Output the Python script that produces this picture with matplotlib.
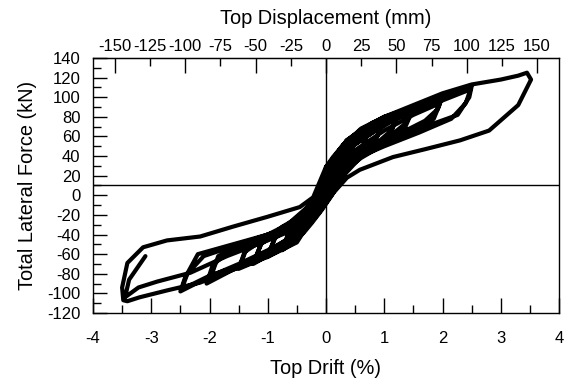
import matplotlib
matplotlib.use("Agg")
import matplotlib.pyplot as plt
from matplotlib.ticker import FuncFormatter

plt.rcParams['font.family'] = ['Liberation Sans', 'DejaVu Sans']
plt.rcParams['axes.unicode_minus'] = False

# wall height used to convert drift (%) to top displacement (mm)
wall_height_mm = 4140.0

# hysteresis cycles: drift (%) and lateral force (kN)
cyc_025_drift = [0.00, 0.12, 0.26, 0.18, 0.06, -0.06, -0.18, -0.26, -0.17, -0.08, 0.00, 0.12, 0.25, 0.16,
                 0.04, -0.08, -0.20, -0.25, -0.14, -0.04, 0.05, 0.15, 0.24, 0.15, 0.02, -0.10, -0.24, -0.15,
                 -0.03]
cyc_025_force = [20, 36, 48, 26, 6, -10, -20, -28, -12, 4, 22, 34, 44, 20,
                 2, -14, -22, -25, -6, 8, 24, 32, 40, 14, -2, -16, -24, -8,
                 14]

cyc_050_drift = [-0.05, 0.00, 0.20, 0.36, 0.50, 0.42, 0.30, 0.12, -0.05, -0.25, -0.40, -0.50, -0.42, -0.30,
                 -0.18, -0.08, 0.00, 0.18, 0.34, 0.49, 0.40, 0.26, 0.10, -0.06, -0.24, -0.38, -0.49, -0.40,
                 -0.26, -0.14]
cyc_050_force = [12, 24, 44, 54, 62, 40, 22, 4, -12, -26, -38, -46, -28, -14,
                 -4, 6, 20, 38, 50, 58, 34, 16, 0, -14, -28, -38, -44, -24,
                 -10, 2]

cyc_075_drift = [-0.05, 0.05, 0.25, 0.50, 0.75, 0.65, 0.45, 0.25, 0.08, -0.08, -0.30, -0.55, -0.75, -0.62,
                 -0.42, -0.22, -0.08, 0.04, 0.25, 0.50, 0.74, 0.62, 0.40, 0.20, 0.04, -0.12, -0.35, -0.58,
                 -0.74, -0.60, -0.38, -0.18]
cyc_075_force = [14, 30, 48, 62, 72, 52, 34, 18, 2, -14, -30, -48, -56, -36,
                 -20, -8, 6, 26, 44, 58, 68, 46, 28, 12, -4, -18, -34, -48,
                 -53, -32, -16, -2]

cyc_100_drift = [-0.08, 0.05, 0.30, 0.60, 1.00, 0.88, 0.60, 0.35, 0.12, -0.05, -0.30, -0.62, -1.01, -0.88,
                 -0.60, -0.35, -0.15, 0.00, 0.25, 0.60, 0.98, 0.85, 0.55, 0.30, 0.08, -0.10, -0.40, -0.72,
                 -0.99, -0.85, -0.55, -0.28, -0.10]
cyc_100_force = [14, 32, 52, 66, 80, 60, 42, 26, 8, -10, -30, -50, -63, -44,
                 -30, -18, -4, 20, 42, 60, 76, 56, 36, 20, 2, -16, -36, -52,
                 -60, -40, -24, -10, 8]

cyc_125_drift = [0.00, 0.25, 0.55, 0.90, 1.25, 1.12, 0.85, 0.50, 0.20, 0.00, -0.25, -0.60, -0.95, -1.25,
                 -1.12, -0.80, -0.45, -0.15, 0.02, 0.30, 0.70, 1.05, 1.24, 1.10, 0.75, 0.40, 0.10, -0.10,
                 -0.45, -0.85, -1.24, -1.10, -0.75, -0.40, -0.12]
cyc_125_force = [16, 46, 64, 76, 85, 66, 52, 38, 20, 2, -24, -46, -60, -70,
                 -50, -36, -24, -10, 14, 44, 64, 76, 82, 62, 46, 30, 12, -8,
                 -34, -54, -68, -48, -32, -20, 0]

cyc_150_drift = [0.00, 0.25, 0.60, 1.00, 1.30, 1.50, 1.38, 1.05, 0.70, 0.35, 0.05, -0.20, -0.55, -1.00,
                 -1.30, -1.50, -1.40, -1.10, -0.70, -0.35, -0.10, 0.05, 0.35, 0.80, 1.20, 1.48, 1.35, 1.00,
                 0.60, 0.25, 0.00, -0.25, -0.65, -1.10, -1.48, -1.36, -1.00, -0.60, -0.25, 0.00]
cyc_150_force = [14, 48, 68, 80, 86, 90, 74, 58, 44, 28, 6, -18, -42, -62,
                 -70, -75, -58, -46, -34, -22, -8, 16, 46, 64, 78, 86, 68, 52,
                 38, 22, 2, -20, -44, -62, -72, -54, -40, -28, -14, 14]

cyc_200_drift = [0.00, 0.30, 0.70, 1.20, 1.60, 2.00, 1.92, 1.70, 1.30, 0.85, 0.40, 0.10, -0.20, -0.60,
                 -1.10, -1.60, -2.05, -1.95, -1.70, -1.20, -0.70, -0.30, -0.05, 0.10, 0.45, 1.00, 1.50, 1.98,
                 1.88, 1.60, 1.10, 0.60, 0.20, 0.00, -0.30, -0.80, -1.40, -2.00, -1.90, -1.55, -1.00, -0.50,
                 -0.15, 0.10, 0.50, 1.00, 1.50, 1.96, 1.85, 1.50, 1.00, 0.50, 0.15, -0.10, -0.50, -1.00,
                 -1.50, -1.97, -1.85, -1.45, -0.90, -0.40, -0.10, 0.00]
cyc_200_force = [16, 52, 70, 82, 92, 102, 88, 76, 64, 50, 36, 14, -16, -46,
                 -62, -76, -90, -72, -58, -48, -36, -22, -6, 18, 50, 72, 86, 98,
                 84, 70, 56, 42, 24, 6, -24, -52, -70, -86, -68, -54, -42, -28,
                 -10, 20, 46, 66, 82, 94, 78, 66, 54, 40, 22, -12, -40, -56,
                 -70, -82, -62, -50, -38, -24, -6, 12]

cyc_250_drift = [0.00, 0.35, 0.80, 1.40, 2.00, 2.50, 2.46, 2.26, 1.70, 1.15, 0.58, 0.20, -0.10, -0.50,
                 -1.00, -1.60, -2.10, -2.50, -2.42, -2.20, -1.60, -1.00, -0.45, -0.10, 0.10, 0.50, 1.10, 1.80,
                 2.48, 2.40, 2.15, 1.60, 1.00, 0.45, 0.10, -0.25, -0.80, -1.50, -2.00, -2.48, -2.38, -2.10,
                 -1.50, -0.90, -0.40, 0.00]
cyc_250_force = [18, 56, 74, 88, 100, 111, 100, 82, 70, 58, 44, 26, -4, -44,
                 -60, -74, -86, -98, -84, -60, -50, -40, -30, -12, 20, 56, 76, 92,
                 108, 94, 78, 64, 50, 36, 18, -20, -54, -72, -82, -96, -80, -62,
                 -50, -38, -24, 14]

cyc_350_drift = [0.00, 0.12, 0.36, 0.58, 1.00, 1.50, 2.00, 2.50, 3.00, 3.30, 3.45, 3.52, 3.30, 2.80,
                 2.30, 1.70, 1.15, 0.58, 0.36, 0.12, -0.05, -0.22, -0.50, -1.01, -1.60, -2.16, -2.73, -3.20,
                 -3.41, -3.48, -3.50, -3.41, -3.14, -2.73, -2.16, -1.60, -1.01, -0.45, -0.22, -0.10, 0.00,
                 0.30, 0.15, -0.05, -0.35, -1.00, -1.70, -2.33, -2.90, -3.22, -3.45, -3.38, -3.10]
cyc_350_force = [29, 39, 56, 66, 80, 92, 104, 113, 118, 122, 125, 118, 92, 66,
                 56, 47, 39, 26, 18, 2, -12, -22, -48, -63, -76, -89, -97, -104,
                 -108, -107, -94, -69, -53, -46, -42, -32, -22, -12, -2, 15, 29,
                 45, 24, -8, -30, -46, -62, -79, -88, -94, -104, -86, -62]

drift = (cyc_025_drift + cyc_050_drift + cyc_075_drift + cyc_100_drift + cyc_125_drift +
         cyc_150_drift + cyc_200_drift + cyc_250_drift + cyc_350_drift)
force = (cyc_025_force + cyc_050_force + cyc_075_force + cyc_100_force + cyc_125_force +
         cyc_150_force + cyc_200_force + cyc_250_force + cyc_350_force)

top_major = [-150, -100, -50, 0, 50, 100, 150]
top_minor = [-125, -75, -25, 25, 75, 125]

fig = plt.figure(figsize=(5.68, 3.87), dpi=100)
ax = fig.add_axes([93 / 568, 1 - 313 / 387, (559 - 93) / 568, (313 - 58) / 387])

ax.plot(drift, force, color='black', lw=3, solid_joinstyle='round', solid_capstyle='round')
ax.axvline(0, color='black', lw=1)
ax.axhline(10, color='black', lw=1)

ax.set_xlim(-4, 4)
ax.set_ylim(-120, 140)
ax.set_xticks(range(-4, 5))
ax.set_xticks([i + 0.5 for i in range(-4, 4)], minor=True)
ax.set_yticks(range(-120, 141, 20))
ax.set_yticks(range(-110, 140, 20), minor=True)
ax.tick_params(axis='x', which='major', direction='in', length=11, width=1, labelsize=12, pad=13)
ax.tick_params(axis='x', which='minor', direction='in', length=5.5, width=1)
ax.tick_params(axis='y', which='major', direction='in', length=10, width=1, labelsize=12, pad=9)
ax.tick_params(axis='y', which='minor', direction='in', length=5.5, width=1)
for s in ax.spines.values():
    s.set_linewidth(1)

ax.set_xlabel('Top Drift (%)', fontsize=14.4, labelpad=9)
ax.set_ylabel('Total Lateral Force (kN)', fontsize=14.4, labelpad=7)

secax = ax.secondary_xaxis('top', functions=(lambda d: d / 100 * wall_height_mm,
                                             lambda mm: mm / wall_height_mm * 100))
secax.set_xticks(top_major)
secax.set_xticks(top_minor, minor=True)
secax.xaxis.set_minor_formatter(FuncFormatter(lambda v, p: '%d' % round(v)))
secax.xaxis.set_major_formatter(FuncFormatter(lambda v, p: '%d' % round(v)))
secax.tick_params(which='major', direction='in', length=11, width=1, labelsize=12, pad=3)
secax.tick_params(which='minor', direction='in', length=5.5, width=1, labelsize=12, pad=3)
secax.set_xlabel('Top Displacement (mm)', fontsize=14.4, labelpad=11)

fig.savefig('out.png', dpi=100)
